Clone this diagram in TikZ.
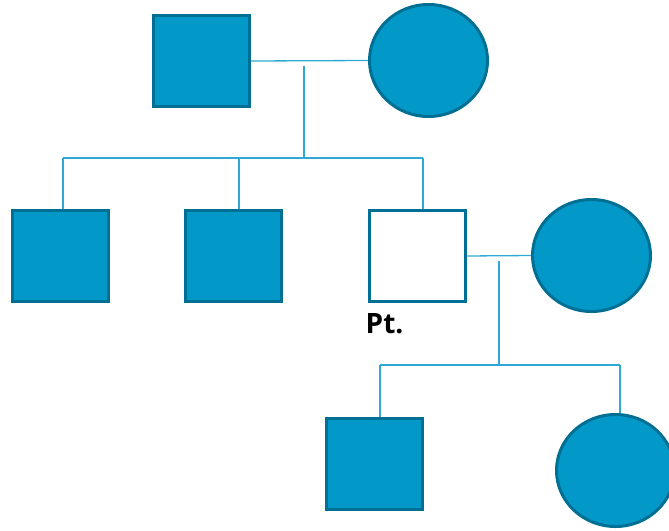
\documentclass[tikz,border=0pt]{standalone}
\usepackage{fontspec}
\setmainfont{Open Sans}
\usetikzlibrary{shapes.geometric}
\definecolor{fillblue}{HTML}{0299C9}
\definecolor{edgeblue}{HTML}{006F94}
\definecolor{lineblue}{HTML}{2EA9D6}
\tikzset{
  male/.style={rectangle, draw=edgeblue, fill=fillblue, line width=3pt, minimum width=96pt, minimum height=91pt, inner sep=0pt},
  female/.style={ellipse, draw=edgeblue, fill=fillblue, line width=3pt, minimum width=118pt, minimum height=112pt, inner sep=0pt},
  proband/.style={male, fill=white},
  link/.style={draw=lineblue, line width=1.3pt},
}
\begin{document}
\begin{tikzpicture}[x=1pt,y=-1pt]
\useasboundingbox (0,0) rectangle (669,530);
\clip (0,0) rectangle (669,530);
% generation I
\node[male] (gf) at (201.5,61) {};
\node[female] (gm) at (428.5,60.5) {};
% generation II
\node[male] (s1) at (60.5,256) {};
\node[male] (s2) at (233.5,256) {};
\node[proband] (pt) at (417.5,256) {};
\node[female] (w) at (591.5,255.5) {};
\node[font=\bfseries\fontsize{28}{32}\selectfont, anchor=base west, inner sep=0pt] (ptl) at (365.5,333) {Pt.};
% generation III
\node[male] (c1) at (374.5,464) {};
\node[female] (c2) at (615.5,470.5) {};
% coordinates
\coordinate (d1a) at (304,66);
\coordinate (d1b) at (304,158);
\coordinate (k1) at (63,158);
\coordinate (k2) at (239,158);
\coordinate (k3) at (423,158);
\coordinate (d2a) at (499,261);
\coordinate (d2b) at (499,365);
\coordinate (m1) at (380,365);
\coordinate (m2) at (620,365);
% connectors
\draw[link] (gf.east) -- (gm.west);
\draw[link] (d1a) -- (d1b);
\draw[link] (k1) -- (k3);
\draw[link] (k1) -- (k1 |- s1.north);
\draw[link] (k2) -- (k2 |- s2.north);
\draw[link] (k3) -- (k3 |- pt.north);
\draw[link] (pt.east) -- (w.west);
\draw[link] (d2a) -- (d2b);
\draw[link] (m1) -- (m2);
\draw[link] (m1) -- (m1 |- c1.north);
\draw[link] (m2) -- (m2 |- c2.north);
\end{tikzpicture}
\end{document}
